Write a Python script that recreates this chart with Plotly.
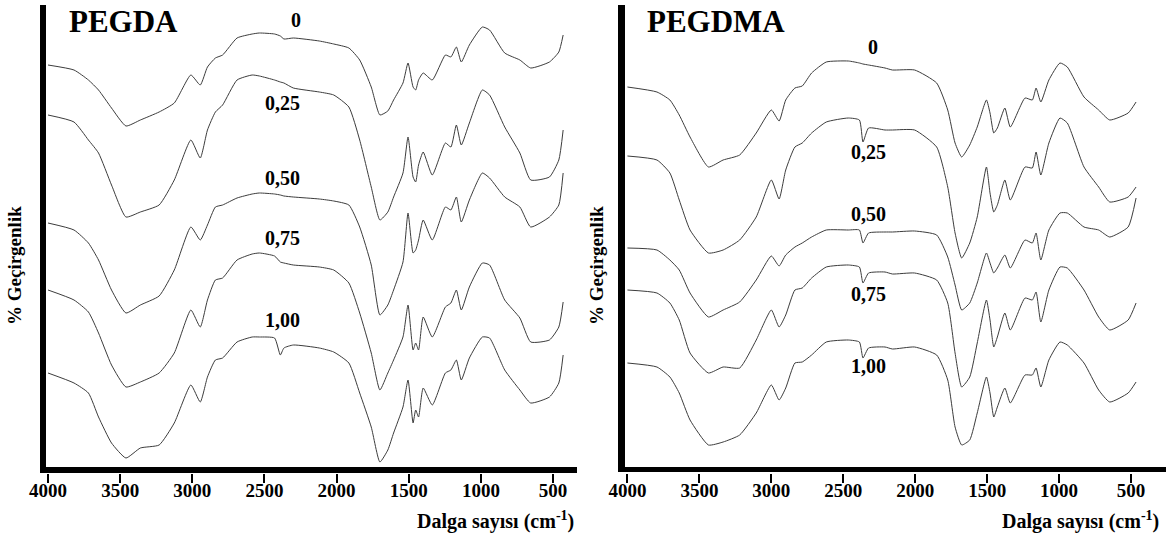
import plotly.graph_objects as go

W, H = 1166, 536

# ---------------- data (y = vertical offset, top = small) -------------
series_names = ["0", "0,25", "0,50", "0,75", "1,00"]

wn_pegda = [4000, 3820, 3720, 3650, 3560, 3460, 3360, 3230, 3125, 3010, 2945, 2895, 2840, 2790,
            2690, 2585, 2535, 2430, 2390, 2365, 2300, 2120, 2020, 1915, 1840, 1760, 1700, 1645,
            1605, 1540, 1505, 1470, 1452, 1432, 1400, 1337, 1246, 1208, 1170, 1136, 1080, 990,
            940, 835, 730, 655, 525, 460, 430]
pegda_0 = [65, 70, 80, 90, 108, 126, 120, 112, 103, 75, 85, 67, 58, 55, 38, 34, 33, 34, 36, 39,
           38, 41, 44, 48, 60, 87, 115, 111, 100, 83, 63, 87, 90, 80, 73, 80, 55, 57, 47, 62,
           45, 27, 30, 53, 60, 68, 62, 52, 35]
pegda_025 = [115, 122, 140, 153, 185, 217, 212, 205, 180, 140, 158, 130, 112, 105, 80, 75, 76,
             80, 82, 83, 88, 92, 95, 107, 140, 187, 220, 212, 197, 173, 137, 177, 182, 165, 152,
             175, 143, 147, 125, 145, 123, 90, 95, 127, 153, 180, 177, 160, 130]
pegda_050 = [223, 230, 243, 260, 290, 313, 305, 296, 270, 227, 240, 225, 207, 205, 198, 194, 193,
             194, 195, 196, 197, 199, 201, 205, 227, 265, 315, 305, 290, 262, 213, 253, 250, 240,
             220, 240, 207, 210, 197, 222, 200, 173, 178, 197, 207, 227, 217, 205, 173]
pegda_075 = [290, 300, 312, 333, 365, 387, 382, 373, 353, 310, 327, 300, 280, 278, 260, 254, 253,
             256, 262, 263, 265, 267, 270, 283, 313, 353, 390, 373, 360, 337, 305, 350, 343, 350,
             317, 337, 307, 303, 290, 310, 287, 263, 265, 300, 318, 342, 340, 327, 302]
pegda_100 = [373, 383, 393, 417, 443, 458, 448, 445, 423, 385, 402, 377, 360, 358, 342, 337, 337,
             338, 355, 348, 345, 348, 352, 363, 393, 427, 462, 450, 433, 407, 380, 423, 410, 417,
             388, 405, 373, 370, 360, 380, 358, 337, 338, 370, 390, 403, 397, 383, 355]

wn_pegdma = [4000, 3795, 3705, 3640, 3565, 3437, 3335, 3220, 3105, 3000, 2946, 2900, 2836, 2785,
             2720, 2618, 2465, 2388, 2363, 2324, 2210, 2158, 2004, 1851, 1774, 1723, 1677, 1621,
             1569, 1505, 1480, 1454, 1429, 1377, 1339, 1237, 1186, 1160, 1127, 1071, 994, 943,
             827, 725, 648, 520, 465]
pegdma_0 = [87, 92, 100, 115, 137, 167, 160, 155, 133, 110, 121, 100, 88, 86, 73, 62, 61, 63, 64,
            65, 68, 70, 70, 83, 110, 143, 157, 145, 127, 100, 113, 133, 128, 108, 127, 98, 100,
            88, 102, 80, 63, 67, 97, 110, 120, 113, 102]
pegdma_025 = [156, 160, 173, 200, 230, 253, 250, 240, 217, 180, 199, 170, 147, 143, 133, 122, 118,
              120, 142, 128, 130, 130, 130, 147, 187, 233, 258, 243, 217, 167, 193, 212, 205, 180,
              200, 167, 168, 152, 175, 143, 118, 123, 167, 187, 202, 197, 187]
pegdma_050 = [248, 250, 260, 270, 293, 317, 310, 302, 280, 256, 266, 255, 247, 243, 237, 230, 230,
              230, 243, 233, 232, 232, 231, 235, 257, 285, 310, 303, 283, 253, 263, 273, 268, 255,
              268, 240, 243, 233, 260, 230, 213, 213, 227, 230, 237, 227, 198]
pegdma_075 = [290, 293, 303, 320, 353, 373, 367, 368, 340, 310, 327, 315, 290, 288, 278, 267, 265,
              267, 283, 273, 272, 274, 273, 280, 303, 353, 387, 377, 343, 300, 320, 347, 337, 313,
              330, 298, 300, 292, 322, 290, 267, 268, 290, 317, 330, 320, 303]
pegdma_100 = [363, 367, 377, 393, 420, 445, 442, 435, 413, 385, 400, 388, 363, 362, 355, 342, 340,
              342, 358, 348, 347, 349, 347, 355, 380, 427, 445, 440, 413, 377, 393, 417, 407, 388,
              403, 375, 375, 368, 387, 360, 342, 345, 363, 390, 402, 393, 382]

tick_vals = [4000, 3500, 3000, 2500, 2000, 1500, 1000, 500]
tick_text = ["4000", "3500", "3000", "2500", "2000", "1500", "1000", "500"]

# ---------------- figure ----------------
FONT = "Liberation Serif"
LINE = dict(color="#3c3c3c", width=1)

fig = go.Figure()
for ys in [pegda_0, pegda_025, pegda_050, pegda_075, pegda_100]:
    fig.add_trace(go.Scatter(x=wn_pegda, y=ys, mode="lines", line=dict(LINE, shape="spline", smoothing=0.5),
                             xaxis="x", yaxis="y", showlegend=False, hoverinfo="skip"))
for ys in [pegdma_0, pegdma_025, pegdma_050, pegdma_075, pegdma_100]:
    fig.add_trace(go.Scatter(x=wn_pegdma, y=ys, mode="lines", line=dict(LINE, shape="spline", smoothing=0.5),
                             xaxis="x2", yaxis="y2", showlegend=False, hoverinfo="skip"))

def px(x):
    return x / W

def py(y):
    return 1 - y / H

ydom = [py(473), py(5)]
xax = dict(showgrid=False, zeroline=False, showline=False, ticks="outside", ticklen=9,
           tickwidth=2, tickcolor="black", tickvals=tick_vals,
           ticktext=["<b>" + t + "</b>" for t in tick_text],
           ticklabelstandoff=-9,
           tickfont=dict(family=FONT, size=19, color="black"))
yax = dict(visible=False, range=[473, 5], domain=ydom, fixedrange=True)

fig.update_layout(
    width=W, height=H, margin=dict(l=0, r=0, t=0, b=0, autoexpand=False),
    paper_bgcolor="white", plot_bgcolor="white",
    xaxis=dict(xax, domain=[px(46), px(577)], range=[4014, 334], anchor="y"),
    yaxis=dict(yax, anchor="x"),
    xaxis2=dict(xax, domain=[px(625), 1.0], range=[4017, 257], anchor="y2"),
    yaxis2=dict(yax, anchor="x2"),
)

# thick black axis bars
bars = [(40, 5, 46, 473), (40, 467, 577, 473), (618, 5, 625, 472), (618, 467, 1166, 472)]
for x0, y0, x1, y1 in bars:
    fig.add_shape(type="rect", xref="paper", yref="paper", x0=px(x0), x1=px(x1), y0=py(y1), y1=py(y0),
                  fillcolor="black", line=dict(width=0), layer="above")

ann = []
def text(x, y, s, size, xanchor="center", angle=0, xref="paper", yref="paper"):
    ann.append(dict(x=x, y=y, xref=xref, yref=yref, text="<b>" + s + "</b>", showarrow=False,
                    xanchor=xanchor, yanchor="middle", textangle=angle,
                    font=dict(family=FONT, size=size, color="black")))

text(px(67), py(22), "PEGDA", 31, xanchor="left")
text(px(645), py(22), "PEGDMA", 31, xanchor="left")
text(px(576), py(520), "Dalga sayısı (cm<sup>-1</sup>)", 20, xanchor="right")
text(px(1161), py(520), "Dalga sayısı (cm<sup>-1</sup>)", 20, xanchor="right")
text(px(15), py(266), "% Geçirgenlik", 19, angle=-90)
text(px(597), py(266), "% Geçirgenlik", 19, angle=-90)

left_lab_pos = [(2281, 20), (2372, 103), (2378, 178), (2372, 238), (2378, 320)]
right_lab_pos = [(2294, 47), (2328, 152), (2328, 214), (2328, 294), (2328, 366)]
for name, (x, y) in zip(series_names, left_lab_pos):
    text(x, y, name, 20, xref="x", yref="y")
for name, (x, y) in zip(series_names, right_lab_pos):
    text(x, y, name, 20, xref="x2", yref="y2")

fig.update_layout(annotations=ann)
fig.write_html("out.html", config={"responsive": False, "displayModeBar": False},
               post_script="document.body.style.margin='0';document.body.style.overflow='hidden';")
